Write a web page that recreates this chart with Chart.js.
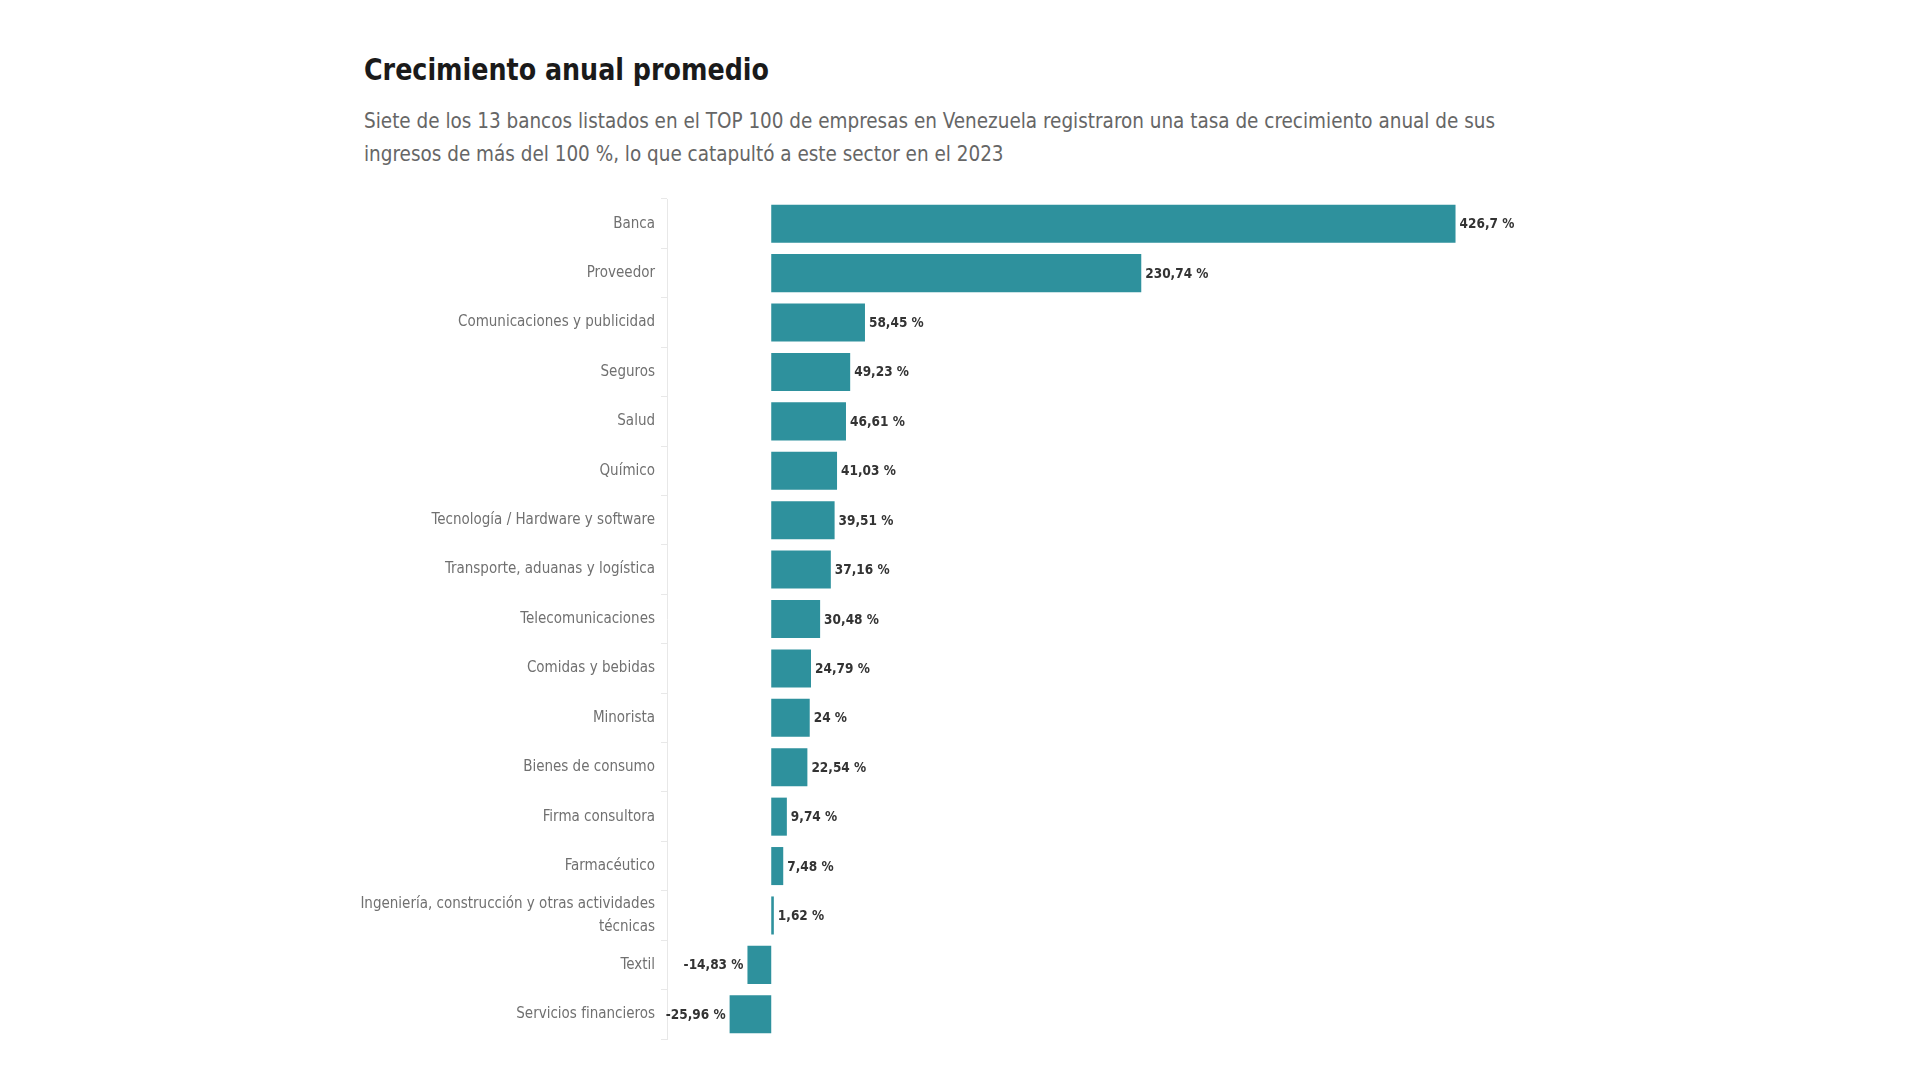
<!DOCTYPE html>
<html lang="es">
<head>
  <meta charset="UTF-8" />
  <title>Crecimiento anual promedio</title>
  <script src="https://cdn.jsdelivr.net/npm/chart.js"></script>
  <style>
    body { margin: 0; background: #fff; width: 1920px; height: 1080px; position: relative; overflow: hidden; font-family: "Liberation Sans Narrow", "DejaVu Sans Condensed", sans-serif; }
    h1 { position: absolute; left: 364px; top: 49px; margin: 0; font-size: 31px; line-height: 40px; font-weight: bold; color: #1a1a1a; white-space: nowrap; transform: scaleX(0.91); transform-origin: left center; }
    .sub { position: absolute; left: 364px; top: 104px; margin: 0; font-size: 22px; line-height: 33px; color: #666; white-space: nowrap; transform: scaleX(0.93); transform-origin: left top; }
    #wrap { position: absolute; left: 0; top: 177px; width: 1541px; height: 884px; }
  </style>
</head>
<body>
  <h1>Crecimiento anual promedio</h1>
  <p class="sub">Siete de los 13 bancos listados en el TOP 100 de empresas en Venezuela registraron una tasa de crecimiento anual de sus<br>ingresos de más del 100 %, lo que catapultó a este sector en el 2023</p>
  <div id="wrap"><canvas id="chart"></canvas></div>

  <script>
    const sectores = [
      "Banca", "Proveedor", "Comunicaciones y publicidad", "Seguros", "Salud", "Químico",
      "Tecnología / Hardware y software", "Transporte, aduanas y logística", "Telecomunicaciones",
      "Comidas y bebidas", "Minorista", "Bienes de consumo", "Firma consultora", "Farmacéutico",
      ["Ingeniería, construcción y otras actividades", "técnicas"], "Textil", "Servicios financieros"
    ];
    const crecimiento = [426.7, 230.74, 58.45, 49.23, 46.61, 41.03, 39.51, 37.16, 30.48, 24.79, 24, 22.54, 9.74, 7.48, 1.62, -14.83, -25.96];

    const FONT = '"Liberation Sans Narrow", "DejaVu Sans Condensed", sans-serif';
    const fmt = v => String(v).replace(".", ",") + " %";

    // etiquetas de valor al final de cada barra
    const valueLabels = {
      id: "valueLabels",
      afterDatasetsDraw(chart) {
        const ctx = chart.ctx;
        const meta = chart.getDatasetMeta(0);
        ctx.save();
        ctx.font = "bold 13.5px " + FONT;
        ctx.fillStyle = "#333";
        ctx.textBaseline = "middle";
        meta.data.forEach((bar, i) => {
          const v = crecimiento[i];
          if (v >= 0) {
            ctx.textAlign = "left";
            ctx.fillText(fmt(v), bar.x + 4, bar.y + 1);
          } else {
            ctx.textAlign = "right";
            ctx.fillText(fmt(v), bar.x - 4, bar.y + 1);
          }
        });
        ctx.restore();
      }
    };

    new Chart(document.getElementById("chart"), {
      type: "bar",
      data: {
        labels: sectores,
        datasets: [{
          data: crecimiento,
          backgroundColor: "#2e919d",
          categoryPercentage: 1,
          barPercentage: 0.77
        }]
      },
      options: {
        indexAxis: "y",
        responsive: true,
        maintainAspectRatio: false,
        animation: false,
        layout: { padding: { top: 22, bottom: 22, left: 0, right: 0 } },
        plugins: { legend: { display: false }, tooltip: { enabled: false } },
        scales: {
          x: { display: false, min: -65, max: 480 },
          y: {
            afterFit: s => { s.width = 667; },
            border: { display: true, color: "#e8e8e8", width: 1 },
            grid: { drawOnChartArea: false, drawTicks: true, tickLength: 6, color: "#e8e8e8" },
            ticks: { color: "#707070", padding: 6, font: { family: FONT, size: 15, lineHeight: 1.5 } }
          }
        }
      },
      plugins: [valueLabels]
    });
  </script>
</body>
</html>
